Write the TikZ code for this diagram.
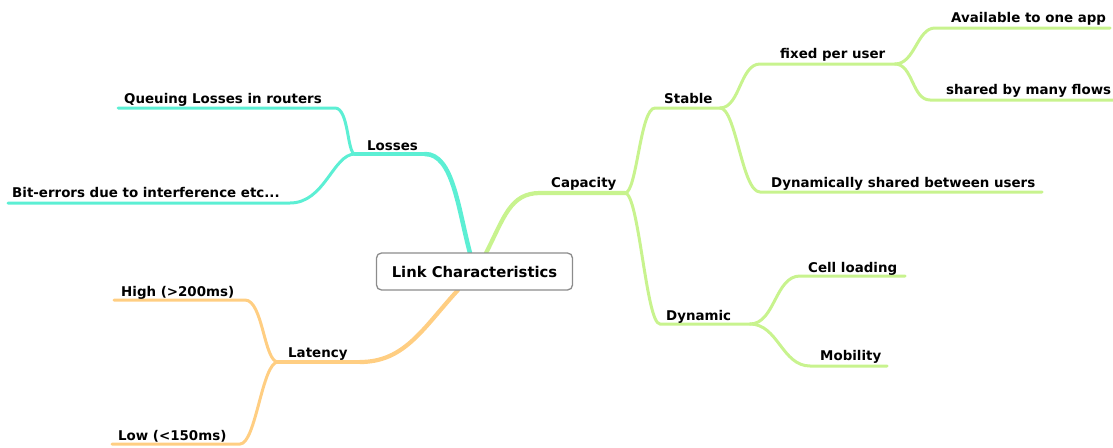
\documentclass[tikz,border=0pt]{standalone}
\usepackage{fontspec}
\setmainfont{DejaVu Sans}
\begin{document}
\definecolor{losscol}{HTML}{5CEFD4}
\definecolor{capcol}{HTML}{C8F38E}
\definecolor{latcol}{HTML}{FFCE82}
\begin{tikzpicture}[x=1pt,y=-1pt,
  lbl/.style={anchor=base west,inner sep=0pt,font=\bfseries\fontsize{13.4}{15}\selectfont},
  rootbox/.style={draw=black!45,line width=1.3pt,rounded corners=5pt,fill=white,
    minimum width=196pt,minimum height=37pt,inner sep=0pt,
    font=\bfseries\fontsize{14.8}{17}\selectfont},
  mainline/.style={line width=4.2pt,line cap=round},
  subline/.style={line width=3pt,line cap=round},
]
\useasboundingbox (0,0) rectangle (1113,447);

% ---- coordinates: ends of the underlines and the attachment points on the root
\coordinate (rootL) at (470,253);
\coordinate (rootC) at (486,253);
\coordinate (rootT) at (458,290);

\coordinate (losL) at (355,154);  \coordinate (losR) at (425,154);
\coordinate (queL) at (118,108);  \coordinate (queR) at (335,108);
\coordinate (bitL) at (8,203);    \coordinate (bitR) at (290,203);

\coordinate (capL) at (540,193);  \coordinate (capR) at (625,193);
\coordinate (staL) at (655,108);  \coordinate (staR) at (720,108);
\coordinate (fixL) at (760,64);   \coordinate (fixR) at (895,64);
\coordinate (avaL) at (935,28);   \coordinate (avaR) at (1110,28);
\coordinate (shaL) at (930,100);  \coordinate (shaR) at (1113,100);
\coordinate (dshL) at (760,192);  \coordinate (dshR) at (1042,192);
\coordinate (dynL) at (660,324);  \coordinate (dynR) at (750,324);
\coordinate (celL) at (800,276);  \coordinate (celR) at (905,276);
\coordinate (mobL) at (810,366);  \coordinate (mobR) at (887,366);

\coordinate (latL) at (278,362);  \coordinate (latR) at (360,362);
\coordinate (higL) at (114,300);  \coordinate (higR) at (245,300);
\coordinate (lowL) at (112,444);  \coordinate (lowR) at (240,444);

% ---- Losses branch
\begin{scope}[draw=losscol]
  \draw[mainline,line width=4.5pt] (losR) .. controls +(28,0) and +(-12,-45) .. (rootL);
  \draw[mainline] (losL) -- (losR);
  \draw[subline] (queL) -- (queR) .. controls +(14,0) and +(-8,0) .. (losL);
  \draw[subline] (bitL) -- (bitR) .. controls +(35,0) and +(-22,0) .. (losL);
\end{scope}

% ---- Capacity branch
\begin{scope}[draw=capcol]
  \draw[mainline] (rootC) .. controls +(18,-35) and +(-30,0) .. (capL) -- (capR);
  \draw[subline] (capR) .. controls +(12,0) and +(-15,0) .. (staL) -- (staR);
  \draw[subline] (capR) .. controls +(14,0) and +(-14,0) .. (dynL) -- (dynR);
  \draw[subline] (staR) .. controls +(20,0) and +(-20,0) .. (fixL) -- (fixR);
  \draw[subline] (staR) .. controls +(16,0) and +(-18,0) .. (dshL) -- (dshR);
  \draw[subline] (fixR) .. controls +(20,0) and +(-18,0) .. (avaL) -- (avaR);
  \draw[subline] (fixR) .. controls +(18,0) and +(-18,0) .. (shaL) -- (shaR);
  \draw[subline] (dynR) .. controls +(25,0) and +(-25,0) .. (celL) -- (celR);
  \draw[subline] (dynR) .. controls +(28,0) and +(-28,0) .. (mobL) -- (mobR);
\end{scope}

% ---- Latency branch
\begin{scope}[draw=latcol]
  \draw[mainline] (rootT) .. controls +(-35,38) and +(45,0) .. (latR);
  \draw[mainline] (latL) -- (latR);
  \draw[subline] (higL) -- (higR) .. controls +(18,0) and +(-14,0) .. (latL);
  \draw[subline] (lowL) -- (lowR) .. controls +(16,0) and +(-16,0) .. (latL);
\end{scope}

% ---- root
\node[rootbox] (root) at (474.5,271.5) {Link Characteristics};

% ---- labels
\node[lbl] (losses)  at (367,150) {Losses};
\node[lbl] (queuing) at (124,103) {Queuing Losses in routers};
\node[lbl] (biterr)  at (12,197)  {Bit-errors due to interference etc...};

\node[lbl] (capacity) at (551,187) {Capacity};
\node[lbl] (stable)   at (664,103) {Stable};
\node[lbl] (fixed)    at (780,58)  {fixed per user};
\node[lbl] (avail)    at (951,22)  {Available to one app};
\node[lbl] (shared)   at (946,94)  {shared by many flows};
\node[lbl] (dynshare) at (771,187) {Dynamically shared between users};
\node[lbl] (dynamic)  at (666,320) {Dynamic};
\node[lbl] (cell)     at (808,272) {Cell loading};
\node[lbl] (mobility) at (820,360) {Mobility};

\node[lbl] (latency) at (288,357) {Latency};
\node[lbl] (high)    at (121,296) {High (>200ms)};
\node[lbl] (low)     at (118,440) {Low (<150ms)};
\end{tikzpicture}
\end{document}
